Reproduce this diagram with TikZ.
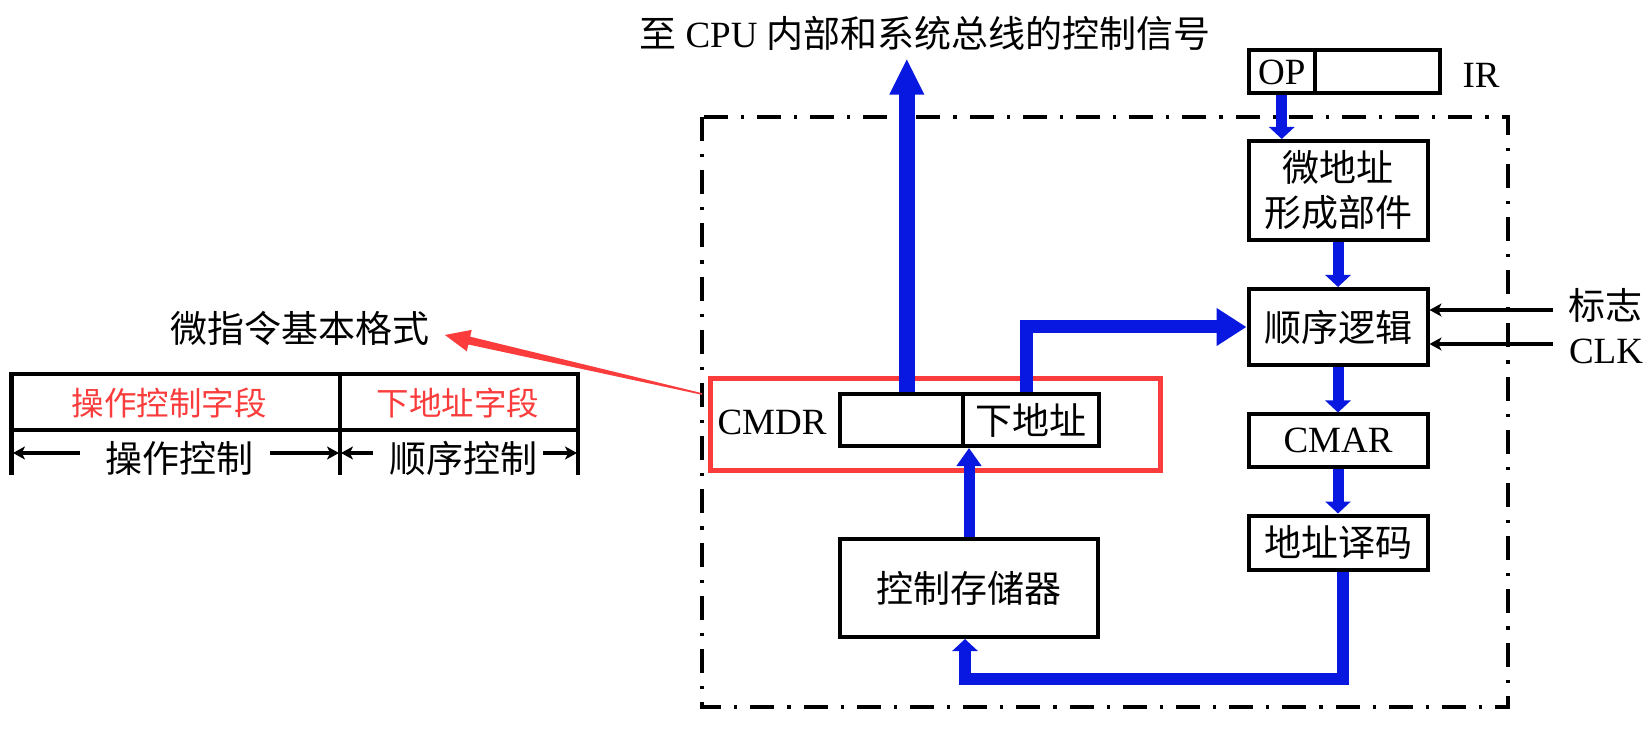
\documentclass[tikz,border=0pt]{standalone}
\usepackage{fontspec}
\setmainfont{Liberation Serif}
\newfontfamily\cjk{Noto Sans CJK SC}
\usetikzlibrary{arrows.meta,calc}
\definecolor{kblue}{RGB}{8,24,224}
\definecolor{kred}{RGB}{250,60,60}

\begin{document}
\begin{tikzpicture}[x=0.5pt,y=-0.5pt,
  every node/.style={font=\fontsize{18.5}{22.5}\selectfont,inner sep=0pt},
  zh/.style={font=\cjk\fontsize{18.5}{22.5}\selectfont},
  zhred/.style={font=\cjk\fontsize{16.25}{18}\selectfont,text=kred},
  box/.style={draw,line width=2pt,minimum width=89.5pt},
  bus/.style={kblue,line width=5.5pt,-{Triangle[length=6pt,width=12.5pt]}},
  bigbus/.style={kblue,line width=6.5pt,-{Triangle[length=15pt,width=18pt]}},
  sig/.style={line width=1.9pt,-{Stealth[length=6pt,width=6.5pt,inset=1.6pt]}}]
\useasboundingbox (0,0) rectangle (1652,731);

\draw [line width=1.8pt,dash pattern=on 12pt off 6.5pt on 1.6pt off 6.5pt] (702,117) rectangle (1508,707);

\node (title) at (925,33) {{\cjk 至} CPU {\cjk 内部和系统总线的控制信号}};

\node [box,minimum width=33.25pt,minimum height=21.5pt] (op) at (1281.75,72) {OP};
\node [box,minimum width=62.5pt,minimum height=21.5pt] (irr) at (1377.5,72) {};
\node (ir) at (1481,75.5) {IR};

\node [box,zh,align=center,minimum height=49.5pt] (wdz) at (1338,190.5) {微地址\\形成部件};
\node [box,zh,minimum height=38pt] (sx) at (1338,327) {顺序逻辑};
\node [box,minimum height=26pt] (cmar) at (1338,440.5) {CMAR};
\node [box,zh,minimum height=27pt] (ym) at (1338,542.5) {地址译码};
\node [box,zh,minimum width=129pt,minimum height=49pt] (kc) at (969,588) {控制存储器};

\node [box,minimum width=61.6pt,minimum height=26pt] (c1) at (901.4,420) {};
\node [box,zh,minimum width=68pt,minimum height=26pt] (c2) at (1031,420) {下地址};
\node (cmdr) at (772,422.5) {CMDR};
\node [draw=kred,line width=2.6pt,minimum width=225pt,minimum height=46pt] (frm) at (935.5,424.5) {};

\node [zh] (flag) at (1605,305) {标志};
\node (clk) at (1606,351.5) {CLK};

\draw [bus] (op.south) -- (op.south |- wdz.north);
\draw [bus] (wdz.south) -- (sx.north);
\draw [bus] (sx.south) -- (cmar.north);
\draw [bus] (cmar.south) -- (ym.north);
\draw [bus,line width=6pt] ([xshift=2.5pt]ym.south) -- ++(0,107) -| ([xshift=-2pt]kc.south);
\draw [bus,-{Triangle[length=9pt,width=12pt]}] (kc.north) -- (kc.north |- c1.south);
\draw [bigbus,line width=8pt,-{Triangle[length=18pt,width=16pt]},shorten >=4pt] ([xshift=2.7pt]c1.north) -- ([xshift=2.7pt]c1.north |- title.south);
\draw [bigbus] ([xshift=-2.5pt]c2.north) |- (sx.west);

\coordinate (fl) at ([xshift=-7.5pt,yshift=-2.5pt]flag.west);
\coordinate (cl) at ([xshift=-8pt,yshift=3.75pt]clk.west);
\draw [sig] (fl) -- (fl -| sx.east);
\draw [sig] (cl) -- (cl -| sx.east);

\node [zh] (fmt) at (300,328) {微指令基本格式};
\coordinate (rt) at (702,394);
\coordinate (rh) at ([xshift=7.5pt,yshift=-3.5pt]fmt.east);
\coordinate (rb) at ($(rh)!12.5pt!(rt)$);
\fill [kred] ($(rt)!0.4pt!90:(rh)$) -- ($(rb)!2pt!-90:(rt)$) -- ($(rb)!5.5pt!-90:(rt)$) -- (rh)
  -- ($(rb)!5.5pt!90:(rt)$) -- ($(rb)!2pt!90:(rt)$) -- ($(rt)!0.4pt!-90:(rh)$) -- cycle;

\draw [line width=2.1pt] (11.5,475) -- (11.5,374) -- (578,374) -- (578,475);
\draw [line width=2.1pt] (11.5,430) -- (578,430);
\draw [line width=2.1pt] (340,374) -- (340,475);
\node [zhred] (f1) at (169,403.5) {操作控制字段};
\node [zhred] (f2) at (458,403.5) {下地址字段};
\node [zh] (g1) at (179,458) {操作控制};
\node [zh] (g2) at (463,458) {顺序控制};
\draw [sig] (80,453) -- (13,453);
\draw [sig] (270,453) -- (339,453);
\draw [sig] (373,453) -- (341,453);
\draw [sig] (543,453) -- (577,453);

\end{tikzpicture}
\end{document}
